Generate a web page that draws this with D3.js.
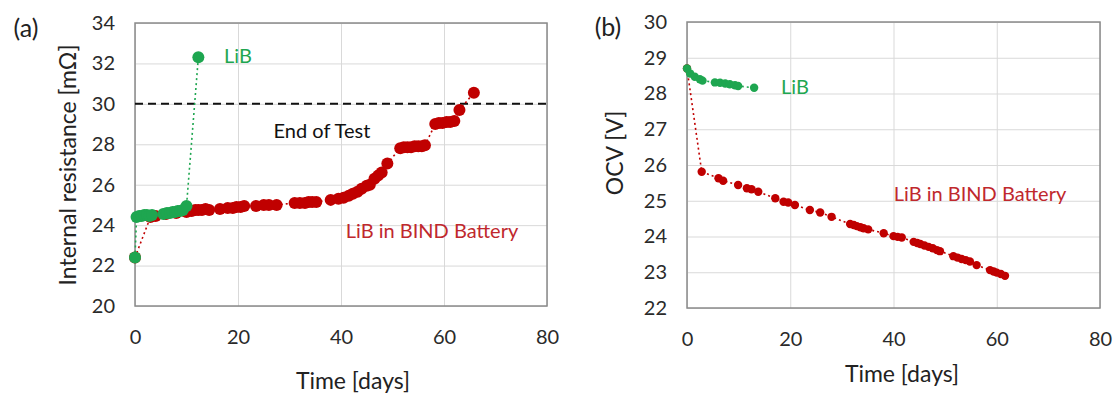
<!DOCTYPE html>
<html>
<head>
<meta charset="utf-8">
<script src="https://cdn.jsdelivr.net/npm/d3@7"></script>
<style>
  body { margin: 0; background: #fff; }
  svg { display: block; font-family: Lato, "Open Sans", sans-serif; }
</style>
</head>
<body>
<script>
// panel (a): internal resistance [mOhm] vs time [days]
const irLibDays   = [0, 0.3, 0.8, 1.3, 1.8, 2.3, 2.8, 3.3, 5.5, 6.2, 6.8, 7.3, 7.8, 8.3, 8.8, 9.3, 10, 12.3];
const irLibValues = [22.4, 24.4, 24.45, 24.45, 24.5, 24.5, 24.45, 24.5, 24.55, 24.6, 24.6, 24.65, 24.65, 24.7, 24.7, 24.75, 24.95, 32.3];

const irBindDays = [0, 3, 4, 6, 8, 10, 11, 11.7, 12.3, 13, 13.7, 14.4, 16.5, 18, 19, 19.7, 20.5, 21.2,
  23.5, 25, 26, 27.5, 31, 32, 33, 33.7, 34.4, 35.2, 38, 39.5, 40.5, 41.5, 42.3, 43.2, 44, 45, 45.6,
  46.5, 47.2, 47.9, 49, 51.5, 52.2, 52.9, 53.6, 54.3, 55, 55.7, 56.3, 58.3, 59, 59.7, 60.5, 61.2, 62, 63, 65.8];
const irBindValues = [22.4, 24.4, 24.45, 24.55, 24.6, 24.65, 24.7, 24.75, 24.75, 24.75, 24.8, 24.75, 24.8, 24.85, 24.85, 24.9, 24.9, 24.95,
  24.95, 25.0, 25.0, 25.0, 25.1, 25.1, 25.1, 25.15, 25.15, 25.15, 25.25, 25.3, 25.35, 25.45, 25.55, 25.65, 25.8, 25.95, 26.0,
  26.3, 26.45, 26.6, 27.05, 27.8, 27.85, 27.85, 27.85, 27.9, 27.9, 27.9, 27.95, 29.0, 29.05, 29.05, 29.1, 29.1, 29.15, 29.7, 30.55];

const endOfTest = 30;

// panel (b): OCV [V] vs time [days]
const ocvLibDays   = [0, 0.6, 1.5, 2.5, 3, 5.4, 6.4, 7.4, 8.3, 9.3, 9.9, 13];
const ocvLibValues = [28.7, 28.56, 28.47, 28.4, 28.36, 28.31, 28.3, 28.28, 28.26, 28.23, 28.21, 28.16];

const ocvBindDays = [0, 2.85, 6.1, 7.0, 9.9, 11.6, 12.5, 13.8, 17.1, 18.7, 19.6, 20.9, 23.8, 25.8, 28.0,
  31.6, 32.3, 32.9, 33.6, 34.2, 35.1, 38.1, 40, 40.8, 41.6, 43.9, 44.6, 45.2, 46.0, 46.8, 47.6, 48.4, 49,
  51.6, 52.4, 53.2, 54.0, 54.8, 56.1, 58.7, 59.4, 60, 60.8, 61.6];
const ocvBindValues = [28.7, 25.81, 25.63, 25.56, 25.44, 25.35, 25.32, 25.25, 25.07, 24.97, 24.95, 24.88, 24.74, 24.67, 24.55,
  24.35, 24.32, 24.29, 24.26, 24.23, 24.2, 24.09, 24.01, 23.99, 23.97, 23.85, 23.82, 23.79, 23.75, 23.71, 23.67, 23.62, 23.59,
  23.45, 23.41, 23.37, 23.34, 23.3, 23.2, 23.06, 23.02, 22.99, 22.95, 22.9];

const xTicks   = [0, 20, 40, 60, 80];
const irTicks  = [20, 22, 24, 26, 28, 30, 32, 34];
const ocvTicks = [22, 23, 24, 25, 26, 27, 28, 29, 30];

const green = "#1ea650";
const red = "#c00000";

const svg = d3.select("body").append("svg")
  .attr("width", 1115)
  .attr("height", 394);

svg.append("rect").attr("width", 1115).attr("height", 394).attr("fill", "#fff");

function zip(xs, ys) { return xs.map((x, i) => ({ x: x, y: ys[i] })); }

// draws frame, grid, ticks for one panel, returns the scales
function panel(left, right, top, bottom, yTicks) {
  let x = d3.scaleLinear().domain([0, 80]).range([left, right]);
  let y = d3.scaleLinear().domain([yTicks[0], yTicks[yTicks.length - 1]]).range([bottom, top]);

  let g = svg.append("g");

  // grid
  g.append("g")
    .attr("transform", `translate(0,${bottom})`)
    .call(d3.axisBottom(x).tickValues(xTicks).tickSize(-(bottom - top)).tickFormat(""))
    .call(a => a.select(".domain").remove())
    .selectAll("line").attr("stroke", "#d9d9d9");
  g.append("g")
    .attr("transform", `translate(${left},0)`)
    .call(d3.axisLeft(y).tickValues(yTicks).tickSize(-(right - left)).tickFormat(""))
    .call(a => a.select(".domain").remove())
    .selectAll("line").attr("stroke", "#d9d9d9");

  // tick labels
  g.append("g")
    .attr("transform", `translate(0,${bottom + 31})`)
    .call(d3.axisBottom(x).tickValues(xTicks).tickSize(0).tickPadding(0))
    .call(a => a.select(".domain").remove())
    .selectAll("text")
      .attr("font-size", "20px").attr("fill", "#2a2a2a")
      .attr("font-family", "Lato").attr("dy", "0.35em");
  g.append("g")
    .attr("transform", `translate(${left - 20},0)`)
    .call(d3.axisLeft(y).tickValues(yTicks).tickSize(0).tickPadding(0))
    .call(a => a.select(".domain").remove())
    .selectAll("text")
      .attr("font-size", "20px").attr("fill", "#2a2a2a")
      .attr("font-family", "Lato");

  g.append("rect")
    .attr("x", left).attr("y", top)
    .attr("width", right - left).attr("height", bottom - top)
    .attr("fill", "none").attr("stroke", "#8a8a8a").attr("stroke-width", 1.5);

  return { x: x, y: y };
}

function series(s, pts, color, r, dash) {
  let line = d3.line().x(d => s.x(d.x)).y(d => s.y(d.y));
  svg.append("path")
    .datum(pts)
    .attr("d", line)
    .attr("fill", "none")
    .attr("stroke", color)
    .attr("stroke-width", 1.6)
    .attr("stroke-dasharray", dash);
  svg.append("g").selectAll("circle")
    .data(pts)
    .enter()
    .append("circle")
      .attr("cx", d => s.x(d.x))
      .attr("cy", d => s.y(d.y))
      .attr("r", r)
      .attr("fill", color);
}

function label(x, y, txt, color, size, rot) {
  let t = svg.append("text")
    .attr("x", x).attr("y", y)
    .attr("fill", color)
    .attr("font-size", size + "px")
    .attr("text-anchor", "middle")
    .attr("dominant-baseline", "central")
    .text(txt);
  if (rot) t.attr("transform", `rotate(-90,${x},${y})`);
  return t;
}

// ---- panel (a)
let sa = panel(135, 547, 23, 306, irTicks);
svg.append("line")
  .attr("x1", sa.x(0)).attr("x2", sa.x(80))
  .attr("y1", sa.y(endOfTest)).attr("y2", sa.y(endOfTest))
  .attr("stroke", "#111").attr("stroke-width", 2)
  .attr("stroke-dasharray", "8,5");
series(sa, zip(irBindDays, irBindValues), red, 6, "2,3");
series(sa, zip(irLibDays, irLibValues), green, 6, "2,3");

label(26, 27, "(a)", "#222", 25);
label(67, 165, "Internal resistance [mΩ]", "#222", 23, true);
label(353, 380, "Time [days]", "#222", 23);
label(238, 55, "LiB", green, 20);
label(322, 130, "End of Test", "#111", 20);
label(432, 230, "LiB in BIND Battery", "#c0282d", 20);

// ---- panel (b)
let sb = panel(687, 1100, 22, 308, ocvTicks);
series(sb, zip(ocvBindDays, ocvBindValues), red, 4.2, "2,3");
series(sb, zip(ocvLibDays, ocvLibValues), green, 4.2, "2,3");

label(608, 26, "(b)", "#222", 25);
label(614, 153, "OCV [V]", "#222", 23, true);
label(902, 373, "Time [days]", "#222", 23);
label(795, 86, "LiB", green, 20);
label(980, 193, "LiB in BIND Battery", "#c0282d", 20);
</script>
</body>
</html>
